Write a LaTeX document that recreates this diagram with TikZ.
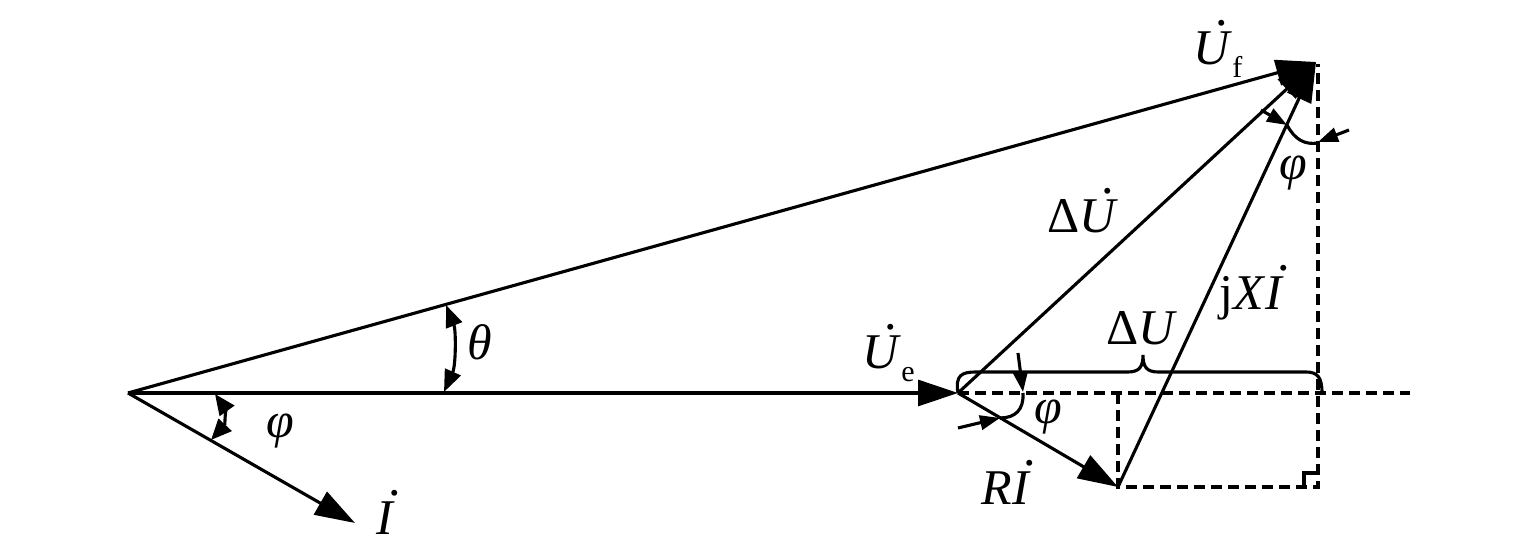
\documentclass[tikz,border=0pt]{standalone}
\usepackage{fontspec}
\setmainfont{Liberation Serif}
\usetikzlibrary{arrows.meta}
\newcommand\vd[2][0.72]{\leavevmode\setbox0\hbox{#2}\rlap{\kern#1\wd0\raisebox{0.78em}{\kern-0.125em\textup{.}}}\box0}
\newcommand\sub[1]{\raisebox{-0.25em}{\fontsize{7.5}{9}\selectfont #1}}
\begin{document}
\begin{tikzpicture}[x=0.25pt,y=-0.25pt, line width=0.78pt,
  vec/.style={-{Triangle[length=10pt,width=6.5pt]}},
  ang/.style={{Triangle[length=5.5pt,width=4.2pt]}-{Triangle[length=5.5pt,width=4.2pt]}},
  angs/.style={{Triangle[length=5.2pt,width=4.4pt]}-{Triangle[length=5.2pt,width=4.4pt]}},
  tick/.style={-{Triangle[length=5pt,width=3.6pt]}},
  guide/.style={dash pattern=on 2.75pt off 1.5pt},
  lbl/.style={anchor=base west, inner sep=0pt, font=\fontsize{12.5}{15}\selectfont}]
\useasboundingbox (0,0) rectangle (1535,554);
% key points
\coordinate (O) at (128,393);
\coordinate (E) at (958,393);
\coordinate (F) at (1316,62);
\coordinate (Ft) at (1318,64);
\coordinate (I) at (355,523);
\coordinate (R) at (1118,487);
\coordinate (C) at (1318,487);
\coordinate (P) at (1118,393);
\coordinate (Dend) at (1410,393);
% dashed guides
\draw[guide] (E) -- (Dend);
\draw[guide] (P) -- (R) -- (C) -- (Ft);
\draw (1304,487) -- (1304,473) -- (1318,473);
% vectors
\draw[vec] (O) -- (E);
\draw[vec] (O) -- (I);
\draw[vec] (O) -- (F);
\draw[vec] (E) -- (F);
\draw[vec] (E) -- (R);
\draw[vec] (R) -- (F);
% brace
\draw (E) .. controls (955,375) and (962,372) .. (976,372) -- (1128,372)
  .. controls (1140,372) and (1143,366) .. (1143,355)
  .. controls (1143,366) and (1146,372) .. (1158,372) -- (1306,372)
  .. controls (1318,372) and (1322,378) .. (1322,393);
% angle theta
\draw[ang] (446,305) .. controls (456,330) and (456,365) .. (444,392);
% angle phi at origin
\draw[angs] (215,394) .. controls (225,408) and (225,425) .. (211,440);
% angle phi at Ue
\draw[tick] (1018,353) -- (1023,392);
\draw (1023,393) .. controls (1024,410) and (1015,418) .. (1000,418);
\draw[tick] (958,428) -- (1000,418);
% angle phi at top
\draw[tick] (1261,110) -- (1287,125);
\draw (1287,125) .. controls (1295,140) and (1305,145) .. (1318,143);
\draw[tick] (1349,130) -- (1318,142);
% labels
\node[lbl] (lUf) at (1192,65) {\vd{\textit{U}}\sub{f}};
\node[lbl] (lUe) at (861,369) {\vd{\textit{U}}\sub{e}};
\node[lbl] (lDUd) at (1046,233) {Δ\vd{\textit{U}}};
\node[lbl] (lDU) at (1105,345) {Δ\textit{U}};
\node[lbl] (lXI) at (1218,310) {j\textit{X}\vd[0.96]{\textit{I}}};
\node[lbl] (lRI) at (980,505) {\textit{R}\vd[0.96]{\textit{I}}};
\node[lbl] (lI) at (375,535) {\vd[0.96]{\textit{I}}};
\node[lbl] (lth) at (466,360) {\textit{θ}};
\node[lbl] (lp1) at (265,438) {\textit{φ}};
\node[lbl] (lp2) at (1033,424) {\textit{φ}};
\node[lbl] (lp3) at (1278,180) {\textit{φ}};
\end{tikzpicture}
\end{document}
